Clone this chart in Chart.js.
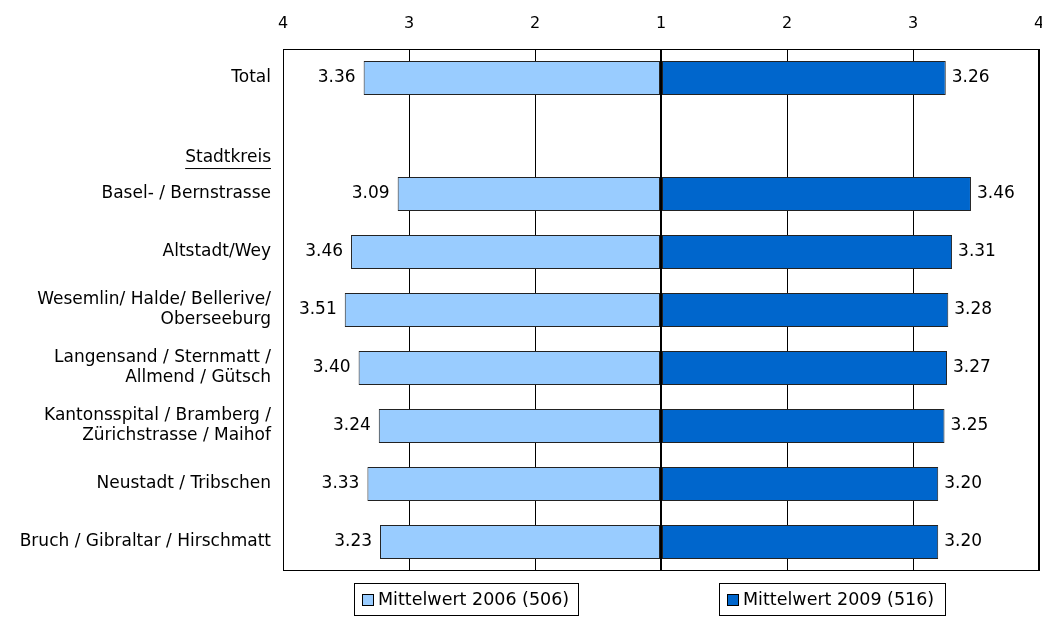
<!DOCTYPE html>
<html>
<head>
<meta charset="utf-8">
<script src="https://cdn.jsdelivr.net/npm/chart.js@4/dist/chart.umd.min.js"></script>
<style>
  html, body { margin: 0; padding: 0; background: #fff; }
  #wrap { width: 1042px; height: 617px; }
</style>
</head>
<body>
<div id="wrap"><canvas id="chart"></canvas></div>
<script>
// categories (row 2 holds the "Stadtkreis" heading)
const categories = [
  'Total',
  '',
  'Basel- / Bernstrasse',
  'Altstadt/Wey',
  ['Wesemlin/ Halde/ Bellerive/', 'Oberseeburg'],
  ['Langensand / Sternmatt /', 'Allmend / Gütsch'],
  ['Kantonsspital / Bramberg /', 'Zürichstrasse / Maihof'],
  'Neustadt / Tribschen',
  'Bruch / Gibraltar / Hirschmatt'
];
const groupHeading = 'Stadtkreis';
const values2006 = [3.36, null, 3.09, 3.46, 3.51, 3.40, 3.24, 3.33, 3.23];
const values2009 = [3.26, null, 3.46, 3.31, 3.28, 3.27, 3.25, 3.20, 3.20];
const label2006 = 'Mittelwert 2006 (506)';
const label2009 = 'Mittelwert 2009 (516)';
const tickValues = [-3, -2, -1, 0, 1, 2, 3]; // shown as 4 3 2 1 2 3 4

const FONT = 'DejaVu Sans';
Chart.defaults.font.family = FONT;
Chart.defaults.font.size = 17;
Chart.defaults.color = '#000';

// bars grow out from the value 1 in the middle
const toLeft = (v) => v == null ? null : -(v - 1);
const toRight = (v) => v == null ? null : (v - 1);

const extras = {
  id: 'extras',
  afterDatasetsDraw(chart) {
    const ctx = chart.ctx;
    const area = chart.chartArea;
    const y = chart.scales.y;
    ctx.save();
    // frame
    ctx.strokeStyle = '#000';
    ctx.lineWidth = 1;
    ctx.strokeRect(area.left + 0.5, area.top + 0.5, area.right - area.left - 1, area.bottom - area.top - 1);

    // value labels
    ctx.font = '17px ' + FONT;
    ctx.fillStyle = '#000';
    ctx.textBaseline = 'middle';
    chart.data.datasets.forEach((ds, di) => {
      const meta = chart.getDatasetMeta(di);
      meta.data.forEach((bar, i) => {
        const v = ds.raw[i];
        if (v == null) return;
        if (di === 0) {
          ctx.textAlign = 'right';
          ctx.fillText(v.toFixed(2), bar.x - 8, bar.y);
        } else {
          ctx.textAlign = 'left';
          ctx.fillText(v.toFixed(2), bar.x + 6, bar.y);
        }
      });
    });

    // underlined group heading
    const rowH = y.getPixelForValue(2) - y.getPixelForValue(1);
    const hy = y.getPixelForValue(1) + rowH * 0.38;
    const hx = area.left - 12;
    ctx.textAlign = 'right';
    ctx.fillText(groupHeading, hx, hy);
    const w = ctx.measureText(groupHeading).width;
    ctx.fillRect(hx - w, hy + 10, w, 1);

    // legend boxes
    const boxes = [
      { x: 354, w: 225, ds: chart.data.datasets[0] },
      { x: 719, w: 227, ds: chart.data.datasets[1] }
    ];
    const top = 583, h = 33;
    ctx.font = '17.5px ' + FONT;
    boxes.forEach((b) => {
      ctx.fillStyle = '#fff';
      ctx.fillRect(b.x, top, b.w, h);
      ctx.strokeStyle = '#000';
      ctx.strokeRect(b.x + 0.5, top + 0.5, b.w - 1, h - 1);
      ctx.fillStyle = b.ds.backgroundColor;
      ctx.fillRect(b.x + 8.5, top + 11.5, 11, 11);
      ctx.strokeRect(b.x + 8.5, top + 11.5, 11, 11);
      ctx.fillStyle = '#000';
      ctx.textAlign = 'left';
      ctx.fillText(b.ds.label, b.x + 24, top + h / 2 + 1);
    });
    ctx.restore();
  }
};

new Chart(document.getElementById('chart'), {
  type: 'bar',
  data: {
    labels: categories,
    datasets: [
      {
        label: label2006,
        raw: values2006,
        data: values2006.map(toLeft),
        backgroundColor: '#99CCFF',
        borderColor: '#222',
        borderWidth: 1,
        borderSkipped: false
      },
      {
        label: label2009,
        raw: values2009,
        data: values2009.map(toRight),
        backgroundColor: '#0066CC',
        borderColor: '#222',
        borderWidth: 1,
        borderSkipped: false
      }
    ]
  },
  options: {
    indexAxis: 'y',
    responsive: true,
    maintainAspectRatio: false,
    animation: false,
    layout: { padding: { left: 0, right: 3, top: 0, bottom: 46 } },
    plugins: {
      legend: { display: false },
      tooltip: { enabled: false }
    },
    datasets: {
      bar: { categoryPercentage: 0.59, barPercentage: 1 }
    },
    scales: {
      x: {
        position: 'top',
        stacked: true,
        min: -3,
        max: 3,
        afterBuildTicks: (axis) => { axis.ticks = tickValues.map((v) => ({ value: v })); },
        afterFit: (axis) => {
          axis.height = 49;
          axis.paddingLeft = 0;
          axis.paddingRight = 0;
        },
        ticks: {
          padding: 16,
          maxRotation: 0,
          font: { size: 16 },
          callback: (v) => Math.abs(v) + 1
        },
        grid: {
          drawTicks: false,
          color: '#000',
          lineWidth: (c) => (c.tick && c.tick.value === 0 ? 2 : 1)
        },
        border: { display: false }
      },
      y: {
        stacked: true,
        afterFit: (axis) => { axis.width = 283; },
        ticks: { padding: 12, font: { size: 17, lineHeight: 1.18 }, autoSkip: false },
        grid: { display: false, drawTicks: false },
        border: { display: false }
      }
    }
  },
  plugins: [extras]
});
</script>
</body>
</html>
